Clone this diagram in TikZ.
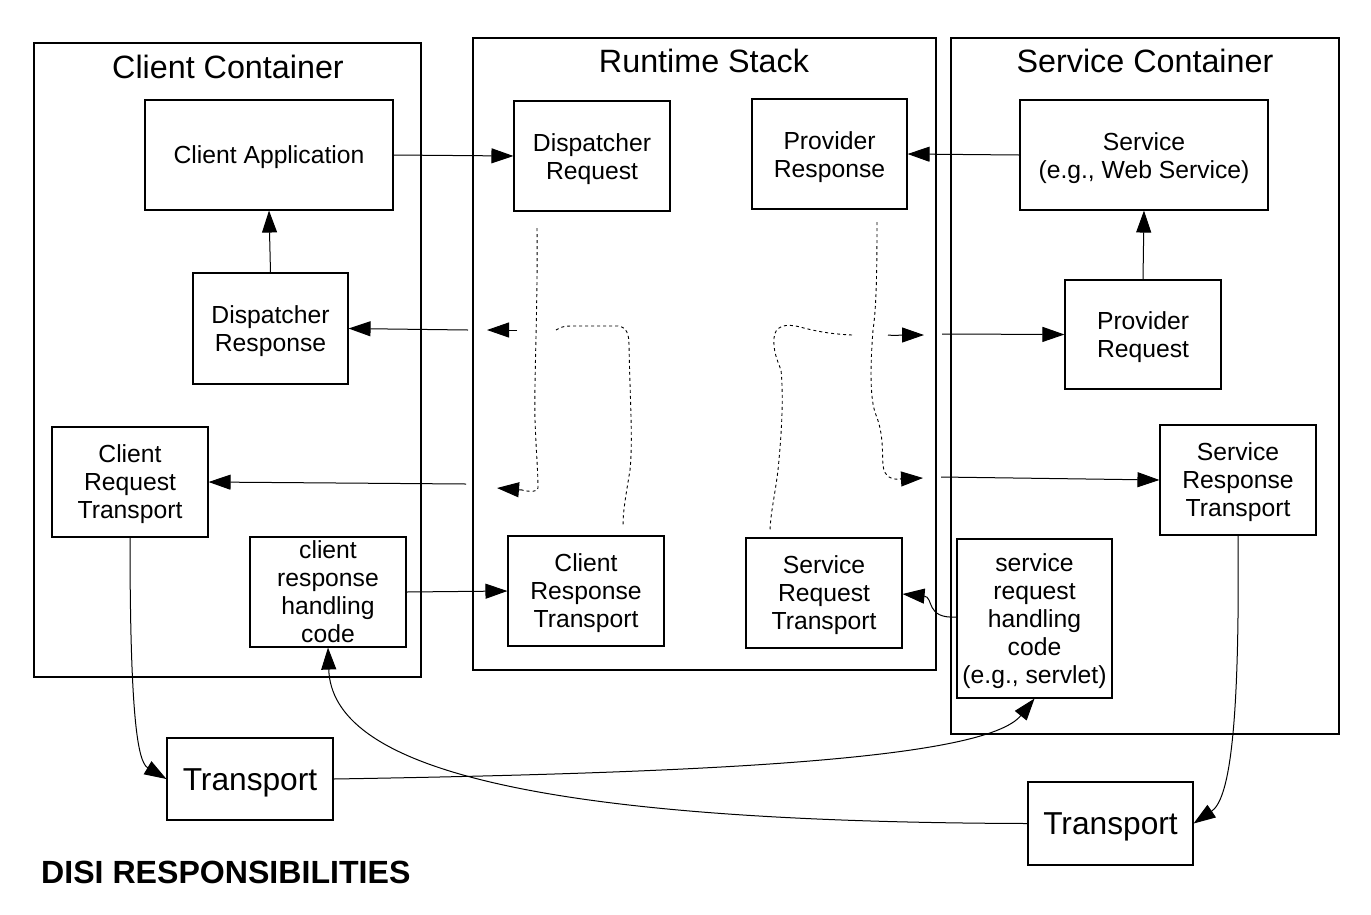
\documentclass[tikz,border=0pt]{standalone}
\usepackage{fontspec}
\setmainfont{Liberation Sans}
\usetikzlibrary{arrows.meta}
\newcommand{\firstup}[1]{\rule{0pt}{#1pt}}
\begin{document}
\begin{tikzpicture}[x=1pt,y=-1pt,
  box/.style={draw,line width=1.1pt,inner sep=0pt,align=center,font=\fontsize{24.7}{28}\selectfont},
  frame/.style={draw,line width=1.1pt},
  title/.style={font=\fontsize{32.3}{36}\selectfont},
  conn/.style={line width=1pt,-{Triangle[length=22pt,width=15pt]}},
  dot/.style={line width=0.9pt,dash pattern=on 3pt off 3pt},
  tip/.style={-{Triangle[length=22pt,width=15pt]}}]
\useasboundingbox (0,0) rectangle (1371,914);
% containers
\draw[frame] (34,43) rectangle (421,677);
\draw[frame] (473,38) rectangle (936,670);
\draw[frame] (951,38) rectangle (1339,734);
\node[title] (tclient) at (228,67) {Client Container};
\node[title] (truntime) at (704,61) {Runtime Stack};
\node[title] (tservice) at (1145,61) {Service Container};
% boxes
\node[box,minimum width=248pt,minimum height=110pt,execute at begin node={\rule{0pt}{23pt}}] (clientapp) at (269,155) {Client Application};
\node[box,minimum width=156pt,minimum height=110pt] (dispreq) at (592,156) {\firstup{24}Dispatcher\\Request};
\node[box,minimum width=155pt,minimum height=110pt] (provresp) at (829.5,154) {\firstup{24}Provider\\Response};
\node[box,minimum width=248pt,minimum height=110pt] (service) at (1144,155) {\firstup{24}Service\\(e.g., Web Service)};
\node[box,minimum width=155pt,minimum height=111pt] (dispresp) at (270.5,328.5) {\firstup{24}Dispatcher\\Response};
\node[box,minimum width=156pt,minimum height=109pt] (provreq) at (1143,334.5) {\firstup{24}Provider\\Request};
\node[box,minimum width=156pt,minimum height=110pt] (clreqtr) at (130,482) {\firstup{22}Client\\Request\\Transport};
\node[box,minimum width=156pt,minimum height=110pt] (svresptr) at (1238,480) {\firstup{22}Service\\Response\\Transport};
\node[box,minimum width=156pt,minimum height=110pt] (clresphc) at (328,592) {client\\response\\handling\\code};
\node[box,minimum width=156pt,minimum height=110pt] (clresptr) at (586,591) {\firstup{22}Client\\Response\\Transport};
\node[box,minimum width=156pt,minimum height=110pt] (svreqtr) at (824,593) {\firstup{22}Service\\Request\\Transport};
\node[box,minimum width=155pt,minimum height=159pt] (svreqhc) at (1034.5,618.5) {\firstup{24}service\\request\\handling\\code\\(e.g., servlet)};
\node[box,minimum width=166pt,minimum height=82pt,font=\fontsize{31.7}{36}\selectfont,execute at begin node={\rule{0pt}{29pt}}] (trL) at (250,779) {Transport};
\node[box,minimum width=165pt,minimum height=83pt,font=\fontsize{31.7}{36}\selectfont,execute at begin node={\rule{0pt}{29pt}}] (trR) at (1110.5,823.5) {Transport};
\node[font=\fontsize{32.1}{36}\selectfont\bfseries,anchor=west,inner sep=0pt] (disi) at (41,872) {DISI RESPONSIBILITIES};
% free-end coordinates
\coordinate (a1) at (468,330);
\coordinate (a2) at (942,334);
\coordinate (a3) at (466,484);
\coordinate (a4) at (941,477);
% straight connectors
\draw[conn] (clientapp.east) -- (dispreq.west);
\draw[conn] (service.west) -- (provresp.east);
\draw[conn] (dispresp.north) -- (clientapp.south);
\draw[conn] (provreq.north) -- (service.south);
\draw[conn] (a1) -- (dispresp.east);
\draw[conn] (a2) -- (provreq.west);
\draw[conn] (a3) -- (clreqtr.east);
\draw[conn] (a4) -- (svresptr.west);
\draw[conn] (clresphc.east) -- (clresptr.west);
% curved connectors
\draw[conn] (svreqhc.west |- 0,617) .. controls (925,619) and (934,597) .. (svreqtr.east |- 0,594);
\draw[conn] (clreqtr.south) .. controls (130,720) and (138,762) .. (trL.west);
\draw[conn] (trL.east) .. controls (700,773) and (985,760) .. (svreqhc.south);
\draw[conn] (trR.west) .. controls (520,822) and (332,765) .. (clresphc.south);
\draw[conn] (svresptr.south) .. controls (1240,740) and (1228,800) .. (trR.east);
% runtime stack dotted flows
\coordinate (l1) at (537,228);
\coordinate (l2) at (522,490);
\coordinate (l3) at (497,488);
\coordinate (lm1) at (517,330);
\coordinate (lm2) at (487,330);
\draw[dot] (l1) .. controls (538,300) and (534,380) .. (535,420) .. controls (536,450) and (538,470) .. (538,488) .. controls (538,492) and (530,492) .. (l2);
\draw[line width=1pt,tip] (l2) -- (l3);
\draw[line width=1pt,tip] (lm1) -- (lm2);
\draw[dot] (556,330) .. controls (562,326) and (566,326) .. (574,326) -- (618,326) .. controls (626,327) and (629,333) .. (629,345) .. controls (630,400) and (633,440) .. (630,470) .. controls (626,495) and (623,510) .. (623,526);
\coordinate (r1) at (877,222);
\coordinate (r2) at (900,479);
\coordinate (r3) at (923,478);
\coordinate (rm1) at (888,335);
\coordinate (rm2) at (924,335);
\draw[dot] (r1) .. controls (877,280) and (876,310) .. (873,330) .. controls (870,370) and (870,400) .. (876,415) .. controls (884,435) and (882,455) .. (883,465) .. controls (884,477) and (892,480) .. (r2);
\draw[line width=1pt,tip] (r2) -- (r3);
\draw[line width=1pt,tip] (rm1) .. controls (895,336) and (900,335) .. (rm2);
\draw[dot] (852,335) .. controls (830,334) and (815,331) .. (800,327) .. controls (785,323) and (775,326) .. (774,338) .. controls (773,350) and (777,360) .. (781,370) .. controls (784,400) and (781,440) .. (778,470) .. controls (775,495) and (771,510) .. (770,530);
\end{tikzpicture}
\end{document}
